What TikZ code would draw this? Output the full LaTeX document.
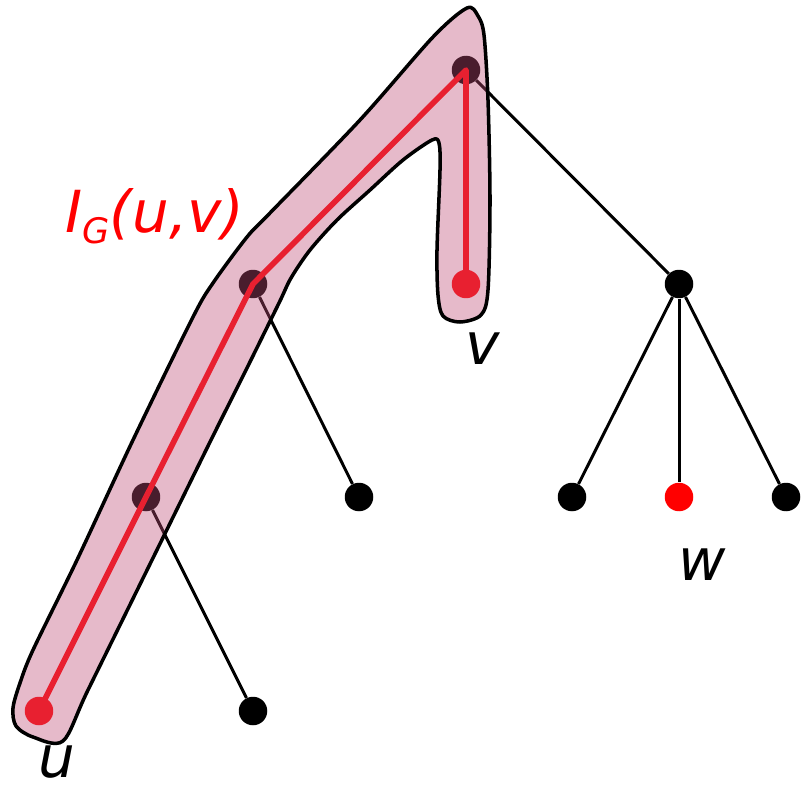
\documentclass[tikz,border=0pt]{standalone}
\usepackage{fontspec}
\setmainfont{DejaVu Sans}
\usetikzlibrary{positioning}
\definecolor{routered}{RGB}{232,32,48}
\definecolor{tubefill}{RGB}{190,77,118}
\definecolor{labelred}{RGB}{255,0,0}

\begin{document}
\begin{tikzpicture}[
  x=0.02cm, y=-0.02cm,
  dot/.style={circle, fill=black, inner sep=0pt, minimum size=0.57cm},
  pdot/.style={dot, fill=routered},
  wdot/.style={dot, fill=labelred},
  edge/.style={line width=1.7pt, draw=black},
  route/.style={line width=3.2pt, draw=routered, line join=round},
  tube/.style={draw=black, line width=2pt, fill=tubefill, fill opacity=0.39, line join=round},
  lbl/.style={inner sep=0pt, font=\fontsize{33}{38}\selectfont\itshape},
]
\useasboundingbox (0,0) rectangle (801,787);
% --- rows (top -> bottom) ---
\def\yr{70} \def\ya{284} \def\yb{497} \def\yc{711}
% tree
\node[dot]  (r)  at (466,\yr) {};
\node[dot]  (a)  at (253,\ya) {};
\node[dot]  (e)  at (679,\ya) {};
\node[dot]  (b)  at (146,\yb) {};
\node[dot]  (c)  at (359,\yb) {};
\node[dot]  (e1) at (572,\yb) {};
\node[wdot] (w)  at (679,\yb) {};
\node[dot]  (e3) at (786,\yb) {};
\node[dot]  (d)  at (253,\yc) {};
% --- edges ---
\draw[edge] (r) -- (e);
\draw[edge] (a) -- (c);
\draw[edge] (b) -- (d);
\draw[edge] (e) -- (e1);
\draw[edge] (e) -- (w);
\draw[edge] (e) -- (e3);
% interval I_G(u,v)
\draw[tube] plot[smooth cycle, tension=0.5] coordinates {
  (467,8) (478,16) (484,35) (488,100) (490,200) (488,290) (481,315)
  (460,322) (443,316) (438,295) (437,250) (440,170) (439,143) (432,140)
  (403,160) (370,190) (337,220) (310,250) (291,278) (279,303) (245,372)
  (211,440) (152,560) (88,690) (63,741) (33,737) (16,726) (13,708)
  (20,683) (33,650) (77,560) (133,440) (193,317) (213,283) (247,237)
  (270,213) (360,120) (433,37)};
\node[pdot] (u) at (39,\yc) {};
\node[pdot] (v) at (466,\ya) {};
\draw[route] (u.center) -- (b.center) -- (a.center) -- (r.center) -- (v.center);
% labels
\node[lbl, text=labelred, anchor=base west] (ig) at (65,233)
  {I\raisebox{-6pt}{\fontsize{20}{24}\selectfont G}(u,v)};
\node[lbl] (ul) at (57,762) {u};
\node[lbl] (vl) at (483,349) {v};
\node[lbl] (wl) at (702,565) {w};
\end{tikzpicture}
\end{document}
